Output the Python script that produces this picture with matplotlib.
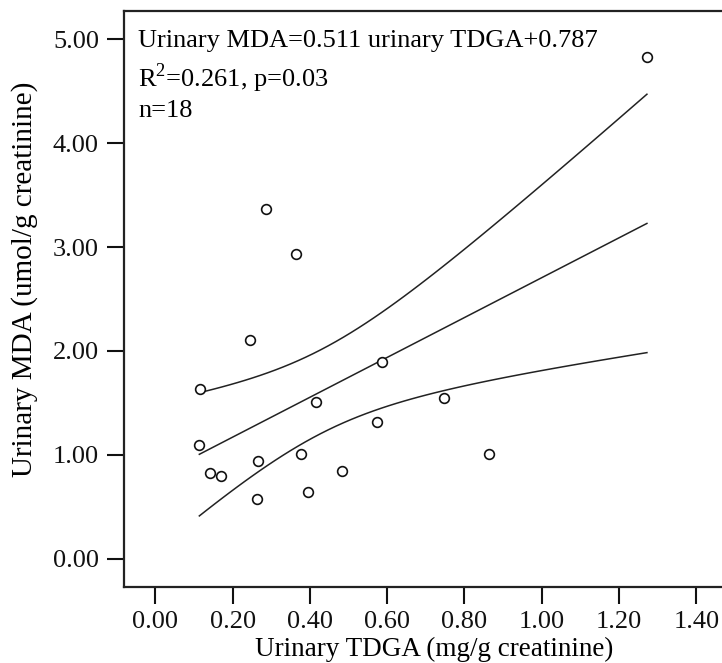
import numpy as np
import matplotlib
matplotlib.use("Agg")
from matplotlib import pyplot as plt

# urinary TDGA (mg/g creatinine) and urinary MDA (umol/g creatinine), n=18
tdga = [0.286, 0.364, 0.245, 0.116, 0.416, 0.586, 0.114, 0.746, 0.573,
        0.265, 0.376, 0.141, 0.170, 0.484, 0.864, 0.264, 0.394, 1.272]
mda = [3.37, 2.93, 2.11, 1.63, 1.51, 1.89, 1.10, 1.55, 1.32,
       0.94, 1.01, 0.83, 0.80, 0.85, 1.01, 0.58, 0.64, 4.83]
x_ticks = [0.0, 0.2, 0.4, 0.6, 0.8, 1.0, 1.2, 1.4]
y_ticks = [0.0, 1.0, 2.0, 3.0, 4.0, 5.0]
t_crit = 1.746  # t(0.95, 16) -> 90% band

plt.rcParams['font.family'] = ['Liberation Serif', 'DejaVu Serif']
plt.rcParams['mathtext.fontset'] = 'custom'
plt.rcParams['mathtext.rm'] = 'Liberation Serif'

x = np.array(tdga)
y = np.array(mda)
n = len(x)

# linear fit + confidence band of the mean
slope, icpt = np.polyfit(x, y, 1)
xs = np.linspace(x.min(), x.max(), 60)
ys = icpt + slope * xs
resid = y - (icpt + slope * x)
s = np.sqrt(np.sum(resid ** 2) / (n - 2))
se = s * np.sqrt(1.0 / n + (xs - x.mean()) ** 2 / np.sum((x - x.mean()) ** 2))

fig = plt.figure(figsize=(7.22, 6.63), dpi=100)
ax = fig.add_axes([0.1717, 0.1146, 0.8587, 0.8688])

ax.plot(xs, ys, color='#222222', lw=1.1)
ax.plot(xs, ys + t_crit * se, color='#222222', lw=1.1)
ax.plot(xs, ys - t_crit * se, color='#222222', lw=1.1)
ax.plot(x, y, 'o', ms=7, mfc='white', mec='#111111', mew=1.2, zorder=3)

ax.set_xlim(-0.081, 1.523)
ax.set_ylim(-0.27, 5.27)
ax.set_xticks(x_ticks)
ax.set_yticks(y_ticks)
ax.set_xticklabels(['%.2f' % v for v in x_ticks])
ax.set_yticklabels(['%.2f' % v for v in y_ticks])
ax.tick_params(direction='out', length=12, width=1.5, labelsize=19, colors='#111111')
ax.tick_params(axis='y', pad=6)
ax.tick_params(axis='x', pad=5)
ax.spines['right'].set_visible(False)
for sp in ['left', 'bottom', 'top']:
    ax.spines[sp].set_linewidth(1.6)
    ax.spines[sp].set_color('#222222')

ax.set_xlabel('Urinary TDGA (mg/g creatinine)', fontsize=19.5)
ax.xaxis.set_label_coords(0.5, -0.086)
ax.set_ylabel('Urinary MDA (umol/g creatinine)', fontsize=21)
ax.yaxis.set_label_coords(-0.139, 0.535)

ax.text(0.0226, 0.9375, 'Urinary MDA=0.511 urinary TDGA+0.787', transform=ax.transAxes,
        fontsize=19, va='baseline')
ax.text(0.0226, 0.8686, r'R$^{\mathregular{2}}$=0.261, p=0.03', transform=ax.transAxes,
        fontsize=19, va='baseline')
ax.text(0.0226, 0.8165, 'n=18', transform=ax.transAxes, fontsize=19, va='baseline')

fig.savefig('out.png', dpi=100)
